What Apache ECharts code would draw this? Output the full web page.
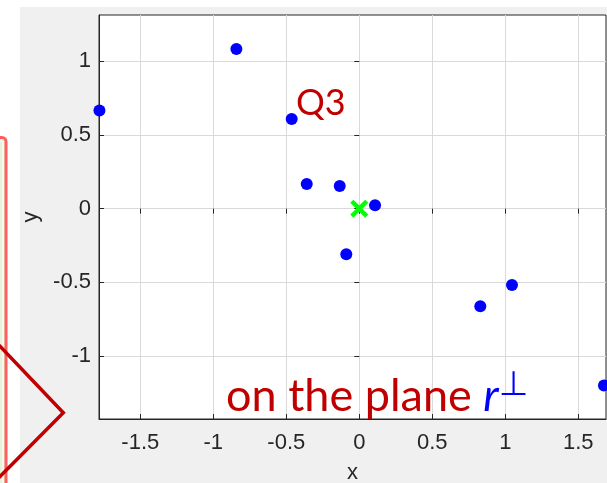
<!DOCTYPE html>
<html>
<head>
<meta charset="utf-8">
<script src="https://cdn.jsdelivr.net/npm/echarts@6/dist/echarts.min.js"></script>
<style>
html, body { margin: 0; padding: 0; background: #ffffff; }
#chart { width: 607px; height: 483px; }
</style>
</head>
<body>
<div id="chart"></div>
<script>
// Projected points (x, y) and the projection origin
const pointX = [-1.780, -0.842, -0.463, -0.360, -0.134, 0.108, -0.089, 0.829, 1.046, 1.676];
const pointY = [0.667, 1.084, 0.609, 0.168, 0.154, 0.023, -0.310, -0.663, -0.518, -1.200];
const originX = [0];
const originY = [0];

// Axis limits and tick values
const xLimits = [-1.783, 1.690];
const yLimits = [-1.428, 1.315];
const xTicks = [-1.5, -1, -0.5, 0, 0.5, 1, 1.5];
const yTicks = [-1, -0.5, 0, 0.5, 1];

// Annotation texts
const quadrantLabel = 'Q3';
const planeLabel = 'on the plane ';
const planeSymbol = 'r';
const perpSymbol = '\u22A5';

const plot = { left: 99, top: 15, width: 507, height: 404 };
const axisColor = '#262626';
const gridColor = '#d9d9d9';
const tickFont = { fontFamily: 'Liberation Sans', fontSize: 22, color: axisColor };

const chart = echarts.init(document.getElementById('chart'), null, { renderer: 'canvas' });

function axisBase(extra) {
  return Object.assign({
    type: 'value',
    axisLine: { show: true, onZero: false, lineStyle: { color: axisColor, width: 1 } },
    axisTick: { show: true, inside: true, length: 5, lineStyle: { color: axisColor, width: 1 } },
    splitLine: { show: false },
    axisLabel: { show: false }
  }, extra);
}

const scatterData = pointX.map((x, i) => [x, pointY[i]]);
const originData = originX.map((x, i) => [x, originY[i]]);

const option = {
  animation: false,
  backgroundColor: '#ffffff',
  grid: Object.assign({
    backgroundColor: '#ffffff', show: true, borderWidth: 1, borderColor: axisColor,
    containLabel: false, outerBoundsMode: 'none'
  }, plot),
  xAxis: [
    axisBase({
      position: 'bottom',
      min: xLimits[0], max: xLimits[1],
      name: 'x', nameLocation: 'middle', nameGap: 43,
      nameTextStyle: Object.assign({}, tickFont),
      axisTick: { show: true, inside: true, length: 5, customValues: xTicks, lineStyle: { color: axisColor } },
      axisLabel: Object.assign({ show: true, margin: 13, customValues: xTicks }, tickFont),
      splitLine: { show: true, customValues: xTicks, lineStyle: { color: gridColor, width: 1 } }
    }),
    axisBase({
      position: 'top',
      min: xLimits[0], max: xLimits[1],
      axisLine: { show: false },
      axisTick: { show: true, inside: true, length: 5, customValues: xTicks, lineStyle: { color: axisColor } }
    })
  ],
  yAxis: [
    axisBase({
      position: 'left',
      min: yLimits[0], max: yLimits[1],
      name: 'y', nameLocation: 'middle', nameGap: 51,
      nameTextStyle: Object.assign({}, tickFont),
      axisTick: { show: true, inside: true, length: 5, customValues: yTicks, lineStyle: { color: axisColor } },
      axisLabel: Object.assign({ show: true, margin: 8, customValues: yTicks }, tickFont),
      splitLine: { show: true, customValues: yTicks, lineStyle: { color: gridColor, width: 1 } }
    }),
    axisBase({
      position: 'right',
      min: yLimits[0], max: yLimits[1],
      axisLine: { show: false },
      axisTick: { show: true, inside: true, length: 5, customValues: yTicks, lineStyle: { color: axisColor } }
    })
  ],
  series: [
    {
      type: 'scatter',
      xAxisIndex: 0, yAxisIndex: 0,
      data: scatterData,
      symbol: 'circle',
      symbolSize: 12,
      clip: false,
      itemStyle: { color: '#0000ff', opacity: 1 },
      z: 5
    },
    {
      type: 'scatter',
      xAxisIndex: 0, yAxisIndex: 0,
      data: originData,
      symbol: 'path://M0,1.7L1.7,0L5,3.3L8.3,0L10,1.7L6.7,5L10,8.3L8.3,10L5,6.7L1.7,10L0,8.3L3.3,5Z',
      symbolSize: 18,
      clip: false,
      itemStyle: { color: '#00ff00', opacity: 1 },
      z: 6
    }
  ],
  graphic: [
    // grey figure background
    { type: 'rect', z: -20, silent: true, shape: { x: 20, y: 7, width: 600, height: 490 }, style: { fill: '#f0f0f0' } },
    // callout panel at the left
    { type: 'rect', z: 1, silent: true, shape: { x: -20, y: 137.5, width: 26, height: 400, r: 4 },
      style: { fill: '#e6f3da', stroke: '#ff5f5f', lineWidth: 3 } },
    { type: 'rect', z: 1, silent: true, shape: { x: -20, y: 141, width: 23, height: 400, r: 2 },
      style: { fill: 'none', stroke: '#ffffff', lineWidth: 1 } },
    { type: 'polyline', z: 2, silent: true,
      shape: { points: [[-4, 342], [63.3, 412.7], [-4, 480.5]] },
      style: { fill: 'none', stroke: '#c00000', lineWidth: 3.5, lineJoin: 'miter' } },
    // annotations
    { type: 'text', z: 12, silent: true, x: 296, y: 103,
      style: { text: quadrantLabel, fill: '#c00000', font: '36px Lato', align: 'left', verticalAlign: 'middle' } },
    { type: 'text', z: 12, silent: true, x: 226, y: 396,
      style: {
        text: '{a|' + planeLabel + '}{b|' + planeSymbol + '}{c|' + perpSymbol + '}',
        align: 'left', verticalAlign: 'middle',
        rich: {
          a: { fontFamily: 'Lato', fontSize: 45, fill: '#c00000' },
          b: { fontFamily: 'Lato', fontSize: 45, fontStyle: 'italic', fill: '#0000ff' },
          c: { fontFamily: 'DejaVu Sans', fontSize: 34, fill: '#0000ff', padding: [0, 0, 20, 0] }
        }
      } }
  ]
};

chart.setOption(option);
</script>
</body>
</html>
